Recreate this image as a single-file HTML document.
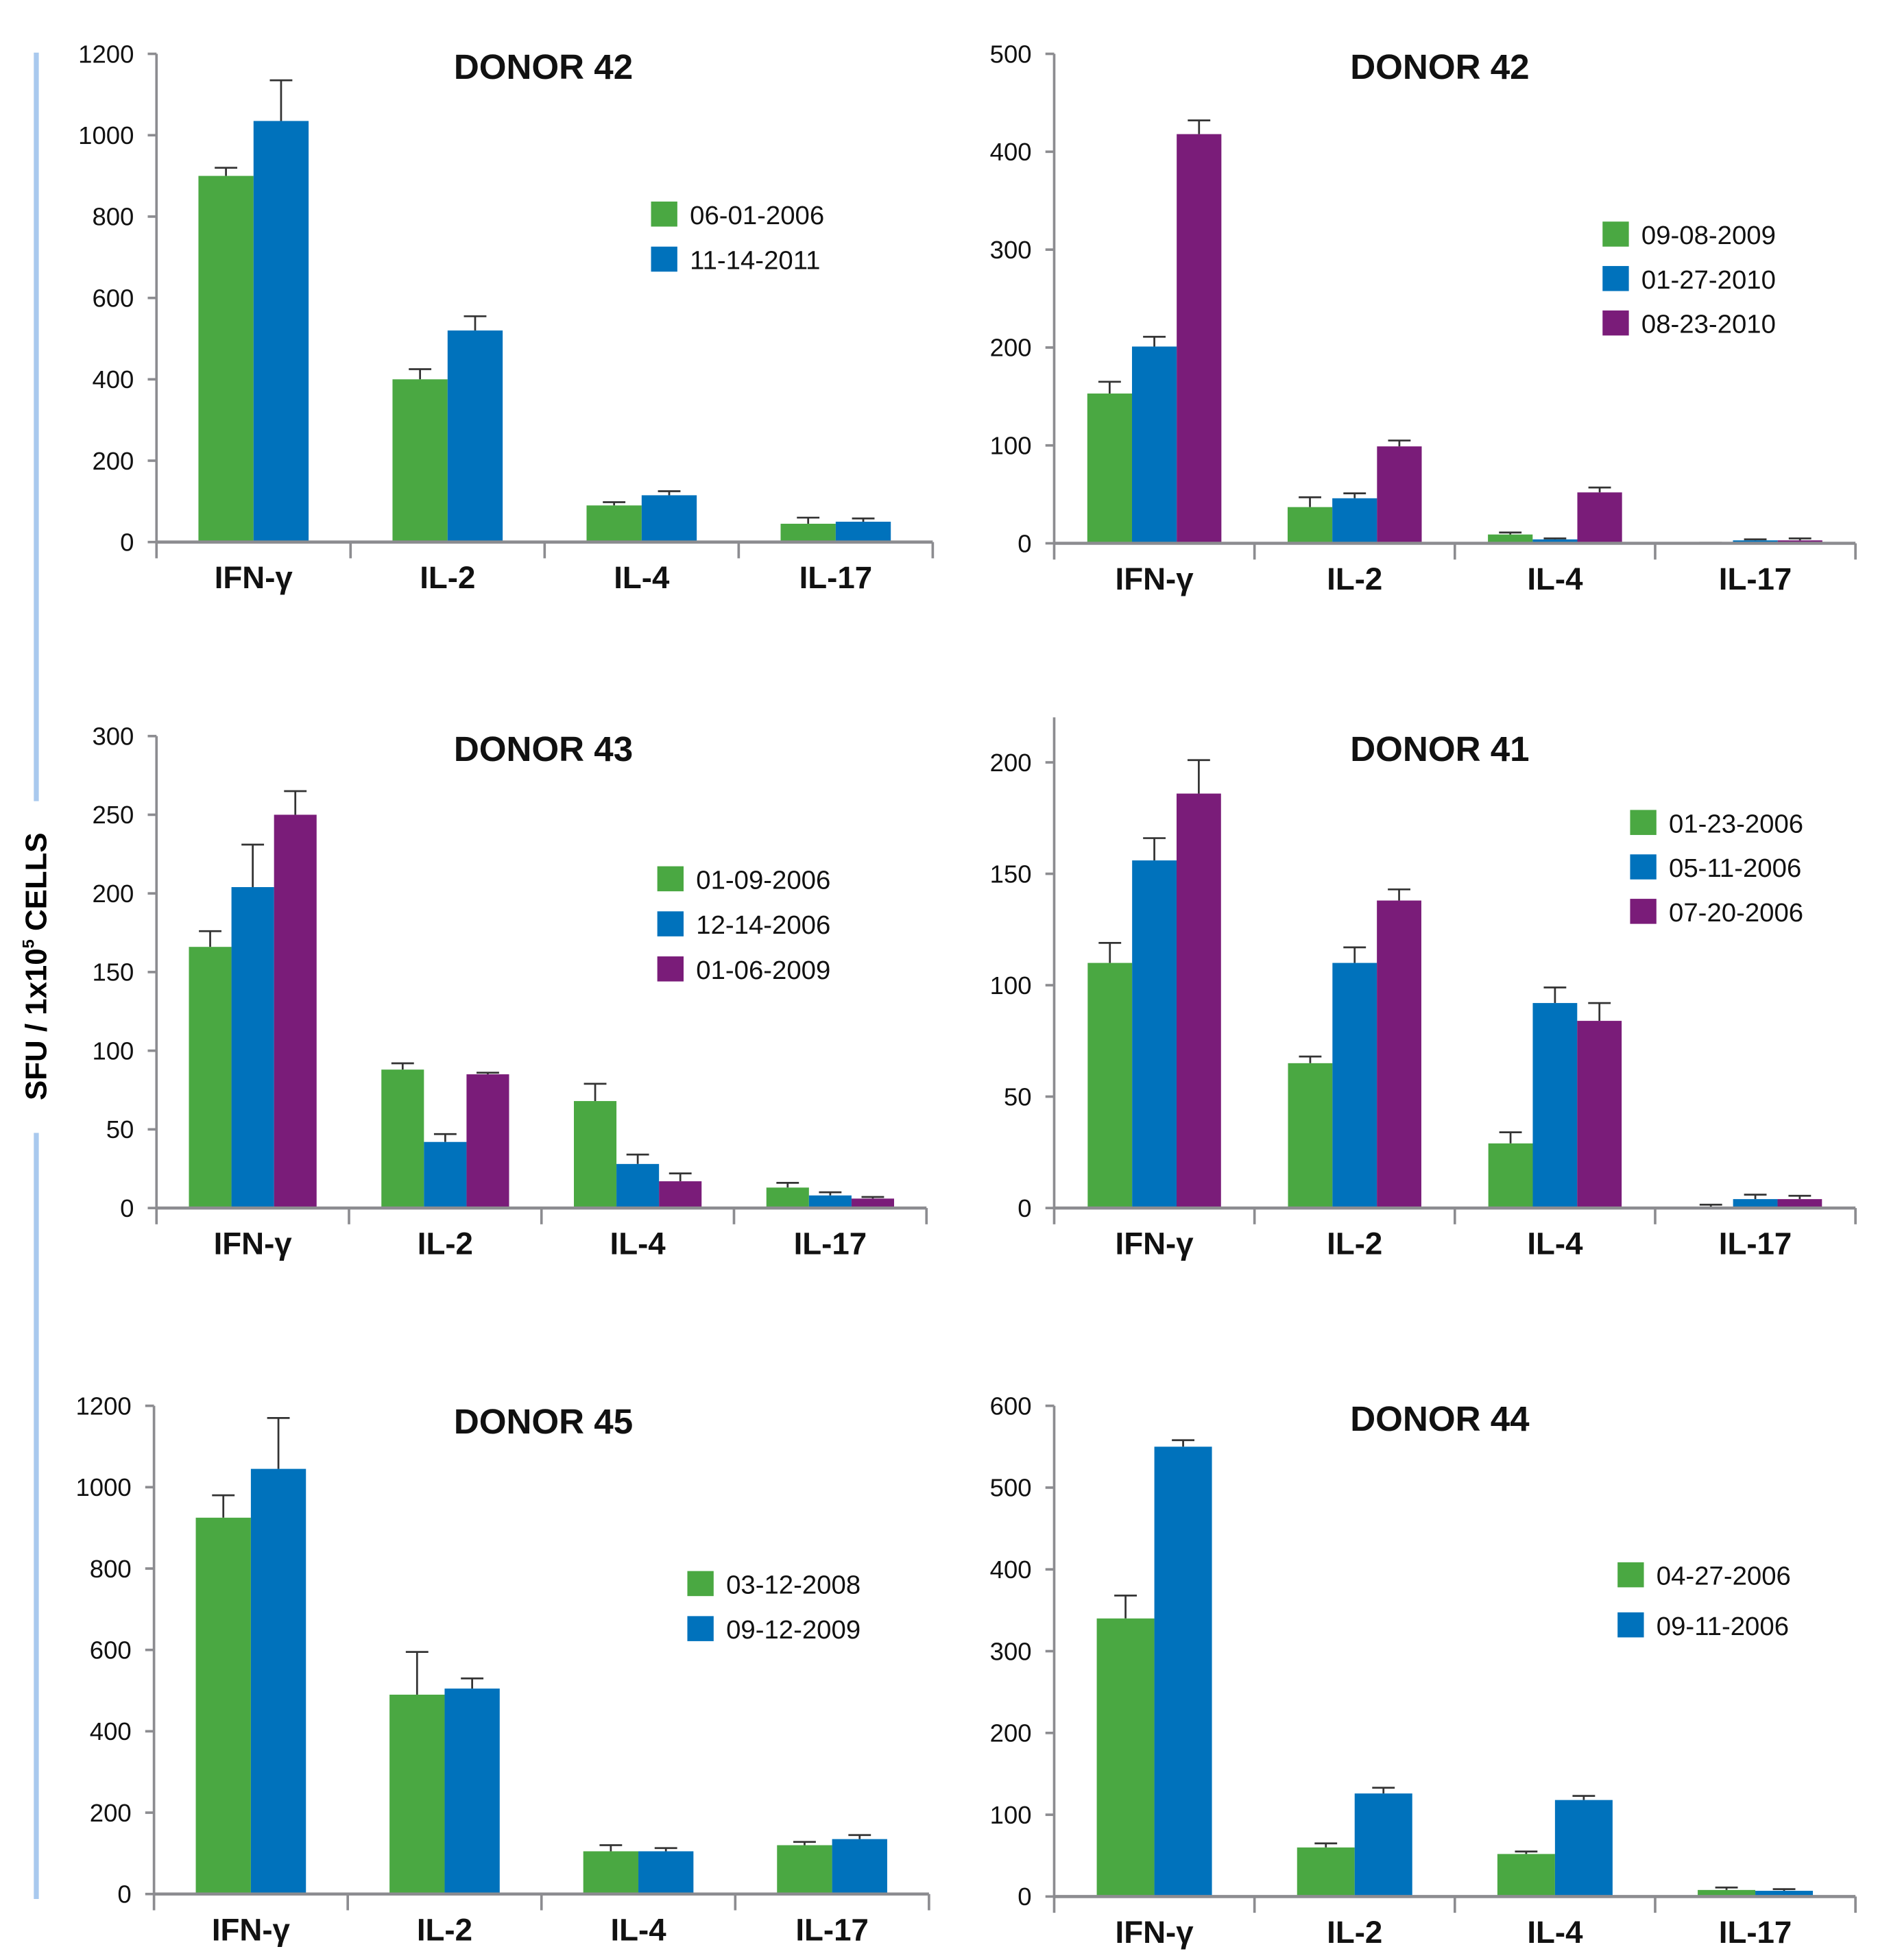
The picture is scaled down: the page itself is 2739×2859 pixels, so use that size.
<!DOCTYPE html>
<html><head><meta charset="utf-8"><style>
html,body{margin:0;padding:0;background:#fff}
svg{display:block}
text{font-family:"Liberation Sans",sans-serif}
</style></head><body>
<svg id="chart" xmlns="http://www.w3.org/2000/svg" width="2739" height="2859" viewBox="0 0 1500 1565.7">
<rect x="0" y="0" width="1500" height="1566" fill="#fff"/>
<line x1="29" y1="42" x2="29" y2="640" stroke="#a9c9ee" stroke-width="4"/>
<line x1="29" y1="905" x2="29" y2="1517" stroke="#a9c9ee" stroke-width="4"/>
<text transform="translate(37,772) rotate(-90)" text-anchor="middle" font-size="24" font-weight="bold">SFU / 1x10<tspan font-size="13" dy="-10">5</tspan><tspan dy="10"> CELLS</tspan></text>
</svg>
<script>
const categories = ["IFN-γ","IL-2","IL-4","IL-17"];
// Panel 1: Donor 42 (2 dates)
const p1Dates = ["06-01-2006","11-14-2011"];
const p1Values = [[900,400,90,45],[1035,520,115,50]];
const p1Errors = [[20,25,8,15],[100,35,10,8]];
const p1Ticks = [0,200,400,600,800,1000,1200];
// Panel 2: Donor 42 (3 dates)
const p2Dates = ["09-08-2009","01-27-2010","08-23-2010"];
const p2Values = [[153,37,9,0.5],[201,46,4,3],[418,99,52,3]];
const p2Errors = [[12,10,2,0],[10,5,1,1],[14,6,5,2]];
const p2Ticks = [0,100,200,300,400,500];
// Panel 3: Donor 43
const p3Dates = ["01-09-2006","12-14-2006","01-06-2009"];
const p3Values = [[166,88,68,13],[204,42,28,8],[250,85,17,6]];
const p3Errors = [[10,4,11,3],[27,5,6,2],[15,1,5,1]];
const p3Ticks = [0,50,100,150,200,250,300];
// Panel 4: Donor 41
const p4Dates = ["01-23-2006","05-11-2006","07-20-2006"];
const p4Values = [[110,65,29,0.5],[156,110,92,4],[186,138,84,4]];
const p4Errors = [[9,3,5,1],[10,7,7,2],[15,5,8,1.5]];
const p4Ticks = [0,50,100,150,200];
// Panel 5: Donor 45
const p5Dates = ["03-12-2008","09-12-2009"];
const p5Values = [[925,490,105,120],[1045,505,105,135]];
const p5Errors = [[55,105,15,8],[125,25,8,10]];
const p5Ticks = [0,200,400,600,800,1000,1200];
// Panel 6: Donor 44
const p6Dates = ["04-27-2006","09-11-2006"];
const p6Values = [[340,60,52,8],[550,126,118,7]];
const p6Errors = [[28,5,3,3],[8,7,5,2]];
const p6Ticks = [0,100,200,300,400,500,600];

const colors = ["#4aa842","#0072bc","#7a1c79"];
const NS = "http://www.w3.org/2000/svg";
const svg = document.getElementById("chart");
function mk(tag, attrs, parent){
  const e = document.createElementNS(NS, tag);
  for (const k in attrs) e.setAttribute(k, attrs[k]);
  (parent||svg).appendChild(e);
  return e;
}
function panel(cfg){
  const g = mk("g",{});
  
  
  const maxT = cfg.ticks[cfg.ticks.length-1];
  const y = v => cfg.y0 - (v/maxT)*(cfg.y0-cfg.yTop);
  const grpW = (cfg.x1-cfg.x0)/categories.length;
  const xg = i => cfg.x0 + grpW*i + grpW/2;
  const ax = mk("line",{x1:cfg.x0,y1:cfg.axisTop||cfg.yTop,x2:cfg.x0,y2:cfg.y0,stroke:"#8c8c90","stroke-width":2},g);
  
  
  cfg.ticks.forEach(t=>{
    const yy = y(t);
    const tk = mk("line",{x1:cfg.x0-7,y1:yy,x2:cfg.x0,y2:yy,stroke:"#8c8c90","stroke-width":2},g);
    
    
    const tl = mk("text",{x:cfg.x0-18,y:yy+7,"text-anchor":"end","font-size":20,fill:"#111"},g);
    
    
    tl.textContent = t;
  });
  const n = cfg.values.length;
  const totalW = cfg.barW*n;
  categories.forEach((c,i)=>{
    for(let s=0;s<n;s++){
      const v = cfg.values[s][i], e = cfg.errors[s][i];
      const bx = xg(i) - totalW/2 + s*cfg.barW;
      const top = y(v+e);
      const el = mk("line",{x1:bx+cfg.barW/2,y1:top,x2:bx+cfg.barW/2,y2:y(v),stroke:"#333","stroke-width":1.5},g);
      
      
      const ec = mk("line",{x1:bx+cfg.barW/2-9,y1:top,x2:bx+cfg.barW/2+9,y2:top,stroke:"#333","stroke-width":1.5},g);
      
      
      const r = mk("rect",{x:bx,y:y(v),width:cfg.barW,height:cfg.y0-y(v),fill:colors[s]},g);
      
      
    }
    const cl = mk("text",{x:xg(i),y:cfg.y0+37,"text-anchor":"middle","font-size":25,"font-weight":"bold",fill:"#111"},g);
    
    
    cl.textContent = c;
  });
  const xa = mk("line",{x1:cfg.x0,y1:cfg.y0,x2:cfg.x1,y2:cfg.y0,stroke:"#8c8c90","stroke-width":2.5},g);
  
  
  for(let i=0;i<=categories.length;i++){
    const sx = cfg.x0+grpW*i;
    const sl = mk("line",{x1:sx,y1:cfg.y0,x2:sx,y2:cfg.y0+13,stroke:"#8c8c90","stroke-width":2},g);
    
    
  }
  const tt = mk("text",{x:cfg.titleX,y:cfg.titleY+10,"text-anchor":"middle","font-size":28,"font-weight":"bold",fill:"#111"},g);
  
  
  tt.textContent = cfg.title;
  cfg.dates.forEach((d,s)=>{
    const ly = cfg.legY + s*cfg.legStep;
    const sq = mk("rect",{x:cfg.legX,y:ly,width:21,height:20,fill:colors[s]},g);
    
    
    const lt = mk("text",{x:cfg.legX+31,y:ly+18,"font-size":21,fill:"#111"},g);
    
    
    lt.textContent = d;
  });
}
panel({name:"panel-donor-42-a",title:"DONOR 42",x0:125,x1:745,y0:433,yTop:43,ticks:p1Ticks,values:p1Values,errors:p1Errors,dates:p1Dates,barW:44,titleX:434,titleY:53,legX:520,legY:161,legStep:36});
panel({name:"panel-donor-42-b",title:"DONOR 42",x0:842,x1:1482,y0:434,yTop:43,ticks:p2Ticks,values:p2Values,errors:p2Errors,dates:p2Dates,barW:35.7,titleX:1150,titleY:53,legX:1280,legY:177,legStep:35.5});
panel({name:"panel-donor-43",title:"DONOR 43",x0:125,x1:740,y0:965,yTop:588,ticks:p3Ticks,values:p3Values,errors:p3Errors,dates:p3Dates,barW:34,titleX:434,titleY:598,legX:525,legY:692,legStep:36});
panel({name:"panel-donor-41",title:"DONOR 41",x0:842,x1:1482,y0:965,yTop:609,axisTop:573,ticks:p4Ticks,values:p4Values,errors:p4Errors,dates:p4Dates,barW:35.5,titleX:1150,titleY:598,legX:1302,legY:647,legStep:35.5});
panel({name:"panel-donor-45",title:"DONOR 45",x0:123,x1:742,y0:1513,yTop:1123,ticks:p5Ticks,values:p5Values,errors:p5Errors,dates:p5Dates,barW:44,titleX:434,titleY:1135,legX:549,legY:1255,legStep:36});
panel({name:"panel-donor-44",title:"DONOR 44",x0:842,x1:1482,y0:1515,yTop:1123,ticks:p6Ticks,values:p6Values,errors:p6Errors,dates:p6Dates,barW:46,titleX:1150,titleY:1133,legX:1292,legY:1248,legStep:40});
</script>
</body></html>
